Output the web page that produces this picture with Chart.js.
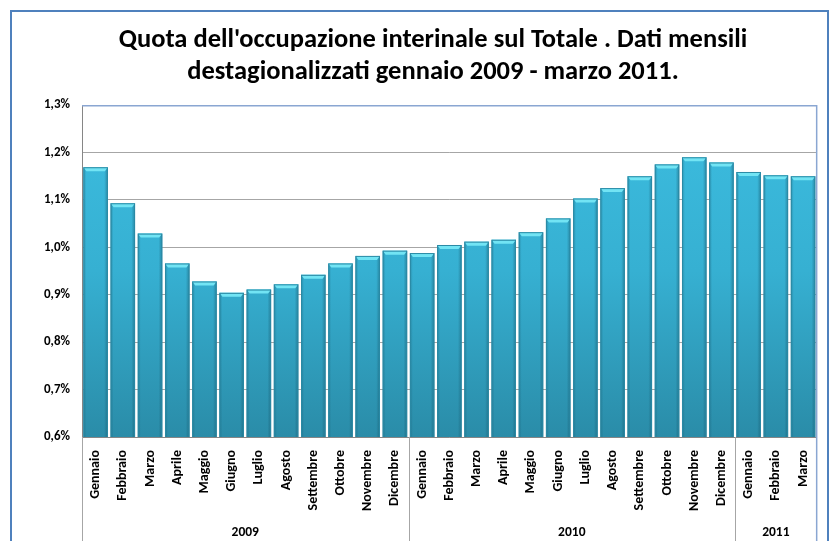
<!DOCTYPE html>
<html>
<head>
<meta charset="utf-8">
<script src="https://cdn.jsdelivr.net/npm/chart.js@4.4.0/dist/chart.umd.min.js"></script>
<style>
    html, body { margin: 0; padding: 0; background: #ffffff; }
    #chartBox { width: 833px; height: 541px; position: relative; }
</style>
</head>
<body>
<div id="chartBox"><canvas id="chart1"></canvas></div>
<script>
// categories (months) and the year groups under them
const labels = [
    'Gennaio', 'Febbraio', 'Marzo', 'Aprile', 'Maggio', 'Giugno', 'Luglio', 'Agosto', 'Settembre', 'Ottobre', 'Novembre', 'Dicembre',
    'Gennaio', 'Febbraio', 'Marzo', 'Aprile', 'Maggio', 'Giugno', 'Luglio', 'Agosto', 'Settembre', 'Ottobre', 'Novembre', 'Dicembre',
    'Gennaio', 'Febbraio', 'Marzo'
];
const years = ['2009', '2010', '2011'];
const monthsPerYear = [12, 12, 3];

// share of temporary employment on total (%)
const values = [
    1.169, 1.093, 1.029, 0.966, 0.928, 0.904, 0.911, 0.922, 0.942, 0.966, 0.982, 0.993,
    0.988, 1.005, 1.012, 1.016, 1.032, 1.061, 1.103, 1.125, 1.150, 1.175, 1.190, 1.179,
    1.159, 1.152, 1.150
];

// y axis ticks
const yMin = 0.6;
const yMax = 1.3;
const yStep = 0.1;

const titleLines = [
    "Quota dell'occupazione interinale sul Totale . Dati mensili",
    'destagionalizzati gennaio 2009 - marzo 2011.'
];

const fontFamily = "Carlito, Lato, 'Open Sans', sans-serif";

// outer frame, plot border, year rows and the bevel on top of the bars
const decorations = {
    id: 'decorations',
    beforeDraw: function (chart) {
        const ctx = chart.ctx;
        ctx.save();
        ctx.strokeStyle = '#4f81bd';
        ctx.lineWidth = 2;
        ctx.strokeRect(11, 11, 817, 600);
        ctx.restore();
    },
    afterDatasetsDraw: function (chart) {
        const ctx = chart.ctx;
        const area = chart.chartArea;
        const meta = chart.getDatasetMeta(0);
        ctx.save();
        ctx.beginPath();
        ctx.rect(area.left, area.top, area.right - area.left, area.bottom - area.top);
        ctx.clip();
        meta.data.forEach(function (bar) {
            const left = bar.x - bar.width / 2;
            const right = bar.x + bar.width / 2;
            const bottom = Math.min(bar.base, area.bottom);
            // darker sides
            const side = ctx.createLinearGradient(left, 0, right, 0);
            side.addColorStop(0, 'rgba(20,80,100,0.35)');
            side.addColorStop(0.12, 'rgba(20,80,100,0)');
            side.addColorStop(0.85, 'rgba(20,80,100,0)');
            side.addColorStop(1, 'rgba(20,80,100,0.45)');
            ctx.fillStyle = side;
            ctx.fillRect(left, bar.y, bar.width, bottom - bar.y);
            // top cap
            ctx.beginPath();
            ctx.moveTo(left, bar.y);
            ctx.lineTo(right, bar.y);
            ctx.lineTo(right - 3, bar.y + 4);
            ctx.lineTo(left + 3, bar.y + 4);
            ctx.closePath();
            ctx.fillStyle = '#72e4f4';
            ctx.fill();
            ctx.strokeStyle = '#2b8aa5';
            ctx.lineWidth = 1;
            ctx.strokeRect(left + 0.5, bar.y + 0.5, bar.width - 1, bottom - bar.y);
        });
        ctx.restore();
    },
    afterDraw: function (chart) {
        const ctx = chart.ctx;
        const area = chart.chartArea;
        const x = chart.scales.x;
        ctx.save();

        // top and right border of the plot area
        ctx.strokeStyle = '#8aa6d2';
        ctx.lineWidth = 1.5;
        ctx.beginPath();
        ctx.moveTo(area.left, area.top + 0.5);
        ctx.lineTo(area.right, area.top + 0.5);
        ctx.lineTo(area.right, chart.height);
        ctx.stroke();

        // separators between the years and the year labels
        ctx.strokeStyle = '#a6a6a6';
        ctx.lineWidth = 1;
        let start = 0;
        ctx.font = 'bold 13.5px ' + fontFamily;
        ctx.fillStyle = '#000000';
        ctx.textAlign = 'center';
        ctx.textBaseline = 'middle';
        for (let i = 0; i < years.length; i++) {
            const end = start + monthsPerYear[i];
            const x0 = x.getPixelForValue(start - 0.5);
            const x1 = x.getPixelForValue(end - 0.5);
            ctx.beginPath();
            ctx.moveTo(Math.round(x0) + 0.5, area.bottom);
            ctx.lineTo(Math.round(x0) + 0.5, chart.height);
            ctx.stroke();
            ctx.fillText(years[i], (x0 + x1) / 2, 533);
            start = end;
        }
        ctx.restore();
    }
};

function barGradient(context) {
    const area = context.chart.chartArea;
    if (!area) {
        return '#38b4d6';
    }
    const g = context.chart.ctx.createLinearGradient(0, area.top, 0, area.bottom);
    g.addColorStop(0, '#3cbde0');
    g.addColorStop(0.5, '#36b0d2');
    g.addColorStop(1, '#2a8ca8');
    return g;
}

const ctx = document.getElementById('chart1');
const myChart = new Chart(ctx, {
    type: 'bar',
    data: {
        labels: labels,
        datasets: [{
            label: 'Quota interinali',
            data: values,
            backgroundColor: barGradient,
            borderWidth: 0,
            barPercentage: 0.9,
            categoryPercentage: 1
        }]
    },
    plugins: [decorations],
    options: {
        responsive: true,
        maintainAspectRatio: false,
        animation: false,
        layout: {
            padding: { left: 40, right: 7, top: 24, bottom: 0 }
        },
        plugins: {
            legend: { display: false },
            tooltip: { enabled: false },
            title: {
                display: true,
                text: titleLines,
                color: '#000000',
                font: { family: fontFamily, size: 26.5, weight: 'bold', lineHeight: 1.21 },
                padding: { top: 0, bottom: 17 }
            }
        },
        scales: {
            y: {
                min: yMin,
                max: yMax,
                afterFit: function (scale) { scale.width = 42; },
                ticks: {
                    stepSize: yStep,
                    padding: 12,
                    color: '#000000',
                    font: { family: fontFamily, size: 13, weight: 'bold' },
                    callback: function (v) { return v.toFixed(1).replace('.', ',') + '%'; }
                },
                grid: { color: '#a6a6a6', drawTicks: false },
                border: { color: '#868686' }
            },
            x: {
                afterFit: function (scale) { scale.height = 104; },
                ticks: {
                    minRotation: 90,
                    maxRotation: 90,
                    autoSkip: false,
                    padding: 13,
                    color: '#000000',
                    font: { family: fontFamily, size: 14, weight: 'bold' }
                },
                grid: { display: false, drawTicks: false },
                border: { color: '#868686' }
            }
        }
    }
});
</script>
</body>
</html>
